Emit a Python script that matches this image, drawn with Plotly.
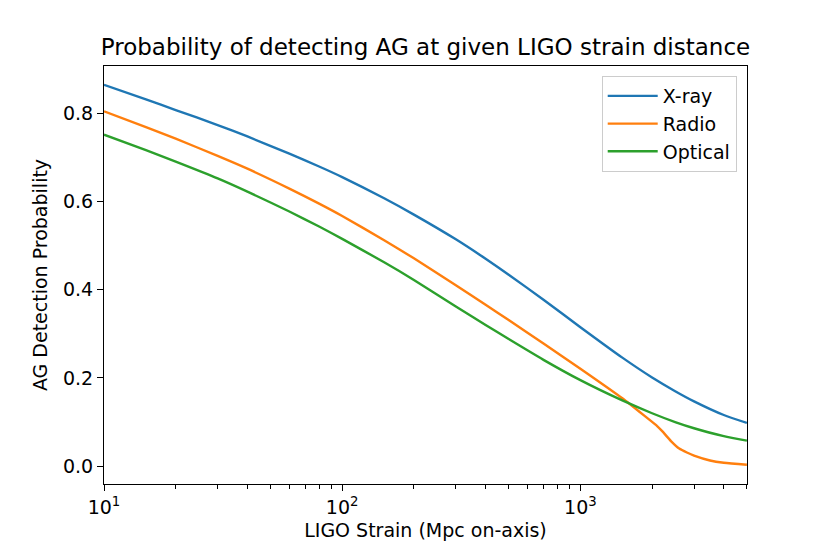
import plotly.graph_objects as go

# LIGO strain distance (Mpc on-axis)
distance = [10, 15, 20, 30, 40, 60, 80, 100, 150, 200, 300, 400, 500, 700,
            1000, 1500, 2000, 2500, 3000, 4000, 5000]

xray = [0.864, 0.831, 0.807, 0.773, 0.747, 0.708, 0.679, 0.655, 0.607, 0.570,
        0.514, 0.470, 0.434, 0.377, 0.315, 0.246, 0.201, 0.170, 0.147, 0.116, 0.098]

optical = [0.751, 0.716, 0.690, 0.652, 0.622, 0.577, 0.543, 0.515, 0.462, 0.422,
           0.362, 0.320, 0.288, 0.241, 0.195, 0.149, 0.120, 0.100, 0.086, 0.068, 0.058]

# radio has a kink near 2100 Mpc, so it gets its own x samples
radio_distance = [10, 15, 20, 30, 40, 60, 80, 100, 150, 200, 300, 400, 500, 700,
                  1000, 1500, 1900, 2100, 2200, 2400, 2600, 2800, 3000, 3500,
                  4000, 5000]
radio = [0.804, 0.768, 0.742, 0.703, 0.674, 0.629, 0.595, 0.567, 0.512, 0.471,
         0.410, 0.366, 0.331, 0.278, 0.221, 0.154, 0.110, 0.091, 0.080, 0.057,
         0.040, 0.031, 0.024, 0.013, 0.0078, 0.0034]

x_major = [10, 100, 1000]
x_major_text = ["10<sup>1</sup>", "10<sup>2</sup>", "10<sup>3</sup>"]
x_minor = [20, 30, 40, 50, 60, 70, 80, 90, 200, 300, 400, 500, 600, 700, 800,
           900, 2000, 3000, 4000, 5000]
y_ticks = [0.0, 0.2, 0.4, 0.6, 0.8]

fig = go.Figure()

series = [
    ("X-ray", distance, xray, "#1f77b4"),
    ("Radio", radio_distance, radio, "#ff7f0e"),
    ("Optical", distance, optical, "#2ca02c"),
]
for name, xs, ys, color in series:
    fig.add_trace(go.Scatter(
        x=xs, y=ys, mode="lines", name=name,
        line=dict(color=color, width=2.4, shape="spline", smoothing=0.6),
    ))

font = dict(family="DejaVu Sans", size=19, color="black")

# the page puts the figure 8px in from the top-left corner
fig.update_layout(
    width=822,
    height=546,
    margin=dict(l=96, r=83, t=58, b=70),
    paper_bgcolor="white",
    plot_bgcolor="white",
    font=font,
    title=dict(
        text="Probability of detecting AG at given LIGO strain distance",
        font=dict(family="DejaVu Sans", size=23, color="black"),
        x=0.5, xref="paper", xanchor="center",
        y=1 - 39 / 546, yref="container", yanchor="middle",
    ),
    legend=dict(
        x=0.984, y=0.976, xanchor="right", yanchor="top",
        bgcolor="rgba(255,255,255,0.8)",
        bordercolor="#cccccc", borderwidth=1,
        itemwidth=50,
        font=font,
    ),
    xaxis=dict(
        type="log",
        range=[1, 3.6995],
        tickvals=x_major, ticktext=x_major_text,
        ticks="outside", ticklen=6, tickwidth=1.1, tickcolor="black",
        minor=dict(tickvals=x_minor, ticks="outside", ticklen=3.5,
                   tickwidth=0.9, tickcolor="black", showgrid=False),
        showline=True, linecolor="black", linewidth=1.1, mirror=True,
        showgrid=False, zeroline=False,
        title=dict(text="LIGO Strain (Mpc on-axis)", font=font, standoff=6),
    ),
    yaxis=dict(
        range=[-0.0403, 0.9067],
        tickvals=y_ticks, tickformat=".1f",
        ticks="outside", ticklen=6, tickwidth=1.1, tickcolor="black",
        showline=True, linecolor="black", linewidth=1.1, mirror=True,
        showgrid=False, zeroline=False,
        title=dict(text="AG Detection Probability", font=font, standoff=10),
    ),
)

fig.write_html("out.html")
